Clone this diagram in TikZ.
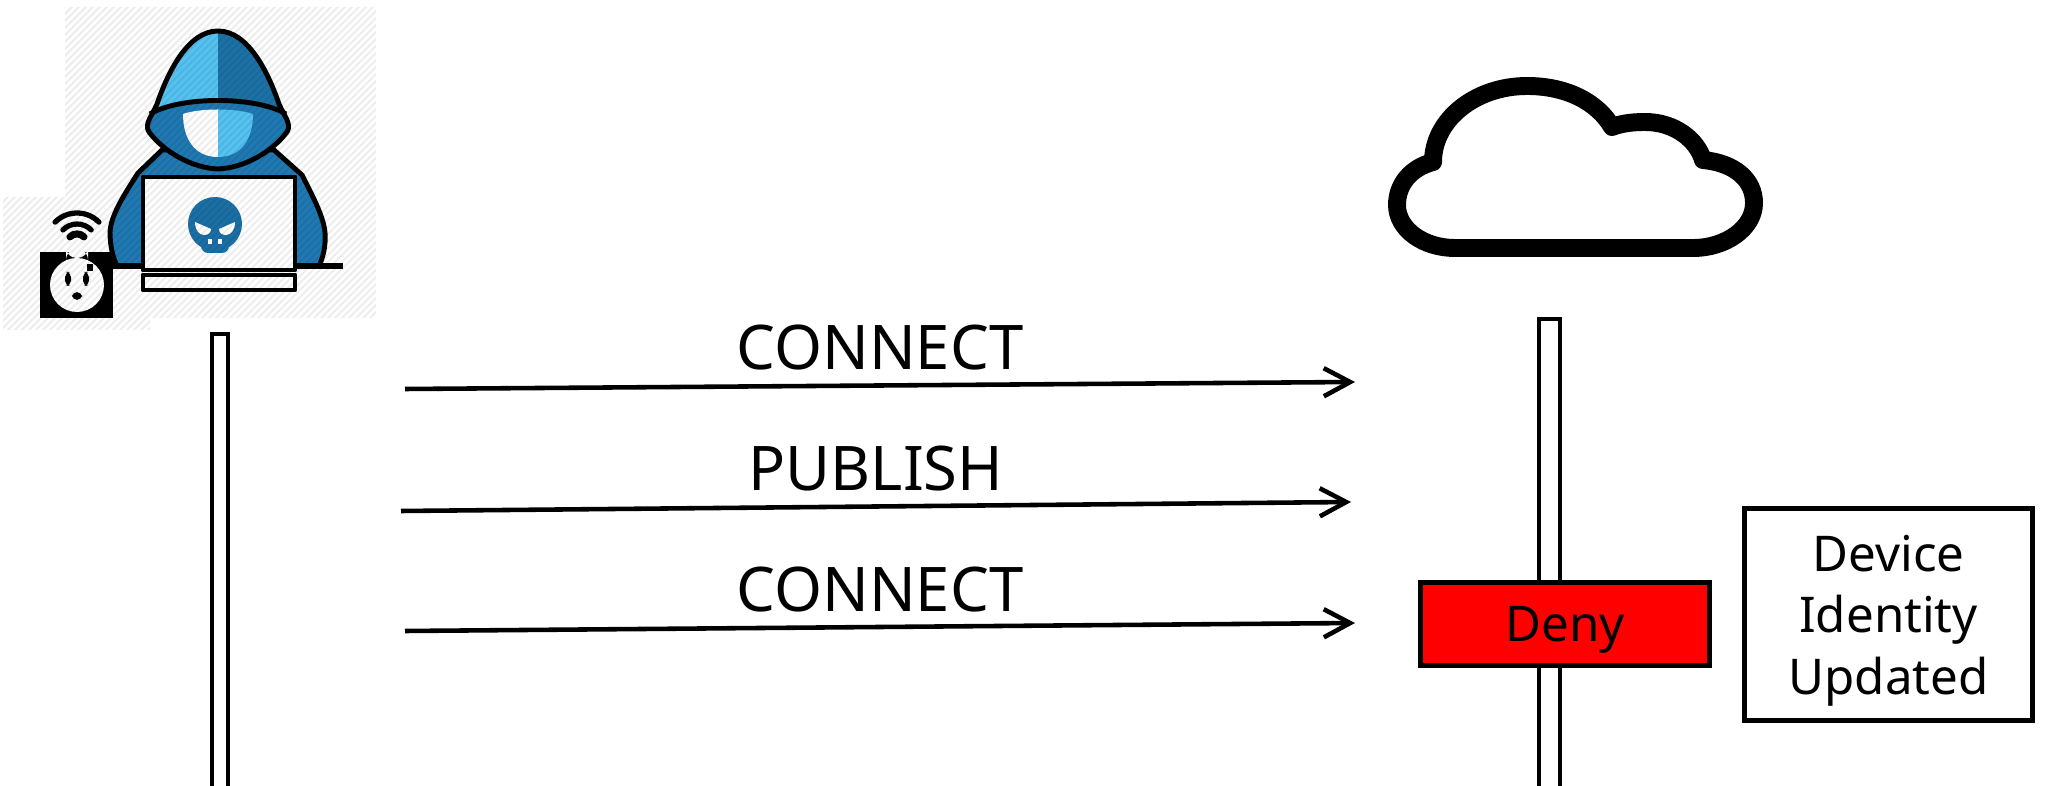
\documentclass[tikz,border=0pt]{standalone}
\usepackage{fontspec}
\setmainfont{Noto Sans}
\usetikzlibrary{arrows.meta}

\definecolor{hoodlight}{HTML}{55C3F2}
\definecolor{hooddark}{HTML}{1C72A6}
\definecolor{bodyblue}{HTML}{1F79B2}
\definecolor{skullblue}{HTML}{1B6FA5}
\definecolor{denyred}{HTML}{FF0000}

% outline of the hood, reused for clipping and stroking
\newcommand{\hoodshape}{(218,31) .. controls (248,31) and (268,72) .. (279,104)
  .. controls (284,116) and (292,124) .. (287,132)
  .. controls (272,152) and (244,168) .. (218,169)
  .. controls (192,168) and (164,152) .. (149,132)
  .. controls (144,124) and (152,116) .. (157,104)
  .. controls (168,72) and (188,31) .. (218,31) -- cycle}

\begin{document}
\begin{tikzpicture}[x=0.01cm,y=-0.01cm,
  outline/.style={line width=1.4pt, line join=round},
  lifeline/.style={draw, line width=1.15pt, fill=white, inner sep=0pt},
  msg/.style={line width=1.3pt, -{Straight Barb[length=7.5pt,width=8pt]}},
  msglabel/.style={font=\fontsize{17.5}{21}\selectfont, inner sep=0pt, above=3.7pt},
  denybox/.style={draw, line width=1.4pt, fill=denyred, minimum width=2.89cm,
    minimum height=0.83cm, inner sep=0pt, text height=10pt, text depth=0pt,
    font=\fontsize{14}{17.5}\selectfont},
  notebox/.style={draw, line width=1.4pt, fill=white, minimum width=2.88cm,
    minimum height=2.12cm, inner sep=0pt, align=center,
    font=\fontsize{14}{17.5}\selectfont},
  hatchline/.style={black, opacity=0.07, line width=0.6pt}]

\useasboundingbox (0,0) rectangle (2049,786);

% ---------- attacker icon ----------
% body and shoulders
\filldraw[outline, fill=bodyblue] (162,150) -- (138,173)
  .. controls (124,195) and (111,215) .. (110,232)
  .. controls (110,246) and (113,258) .. (117,266) -- (319,266)
  .. controls (323,258) and (326,246) .. (325,232)
  .. controls (323,215) and (312,195) .. (302,175) -- (274,150) -- cycle;

% hood: light/dark halves, darker opening below the rim
\begin{scope}
  \clip \hoodshape;
  \fill[hoodlight] (140,20) rectangle (218,180);
  \fill[hooddark] (218,20) rectangle (300,180);
  \fill[bodyblue] (140,180) -- (140,114) -- (150,114)
    .. controls (180,96) and (256,96) .. (286,114) -- (296,114) -- (296,180) -- cycle;
\end{scope}
\draw[outline] (150,114) .. controls (180,96) and (256,96) .. (286,114);

% face
\begin{scope}
  \clip (183,114) .. controls (200,108) and (236,108) .. (253,114)
    .. controls (253,138) and (242,157) .. (218,157)
    .. controls (194,157) and (183,138) .. (183,114) -- cycle;
  \fill[white] (175,100) rectangle (218,160);
  \fill[hoodlight] (218,100) rectangle (260,160);
\end{scope}
\draw[outline] \hoodshape;

% desk line
\draw[line width=1.5pt] (113,266) -- (343,266);

% laptop
\filldraw[outline, fill=white] (143,177) rectangle (295,270);
\filldraw[outline, fill=white] (143,275) rectangle (295,290);

% skull on the lid
\fill[skullblue] (215,224) circle[radius=27];
\fill[skullblue, rounded corners=2] (201,232) rectangle (229,253);
\fill[white] (195,222) -- (211,229) .. controls (211,233) and (208,235) .. (204,235)
  .. controls (199,235) and (195,230) .. (195,222) -- cycle;
\fill[white] (235,222) -- (219,229) .. controls (219,233) and (222,235) .. (226,235)
  .. controls (231,235) and (235,230) .. (235,222) -- cycle;
\fill[white] (208,239) rectangle (212,244);
\fill[white] (218,239) rectangle (222,244);

% smart plug with wifi
\fill (40,252) rectangle (113,318);
\fill[white] (77,285) circle[radius=27];
\fill[white, rounded corners=3] (66,249) rectangle (88,258);
\fill[rounded corners=1.5] (65,272) rectangle (71,286);
\fill[rounded corners=1.5] (83,272) rectangle (89,286);
\fill[rounded corners=1.5] (72,292) rectangle (82,300);
\fill (87,264) rectangle (93,271);
\draw[line width=1.5pt, line cap=round] (55.1,222.1) arc[start angle=225, end angle=315, radius=31];
\draw[line width=1.5pt, line cap=round] (62.9,229.9) arc[start angle=225, end angle=315, radius=20];
\draw[line width=2pt, line cap=round] (69.9,236.9) arc[start angle=225, end angle=315, radius=10];

% faint diagonal hatching over the icon
\begin{scope}
  \clip (65,7) rectangle (376,318) (3,197) rectangle (150,330);
  \foreach \k in {-340,-333,...,380} \draw[hatchline] (\k,335) -- ++(340,-340);
\end{scope}

% ---------- cloud ----------
\draw[line width=5.1pt, line join=round, fill=white] (1455,248) -- (1693,248)
  .. controls (1726,248) and (1754,228) .. (1754,203)
  .. controls (1754,180) and (1735,163) .. (1703,160)
  .. controls (1697,140) and (1675,122) .. (1645,122)
  .. controls (1630,122) and (1620,124) .. (1612,127)
  .. controls (1598,103) and (1568,86) .. (1527,86)
  .. controls (1475,86) and (1433,120) .. (1433,162)
  .. controls (1410,168) and (1397,185) .. (1397,205)
  .. controls (1397,229) and (1423,248) .. (1455,248) -- cycle;

% ---------- lifelines ----------
\node[lifeline, minimum width=0.16cm, minimum height=4.66cm] (clientline) at (220,567) {};
\node[lifeline, minimum width=0.21cm, minimum height=4.81cm] (brokerline) at (1549.5,559.5) {};

% ---------- messages ----------
\coordinate (m1s) at (405,389);  \coordinate (m1e) at (1355,382);
\coordinate (m2s) at (401,511);  \coordinate (m2e) at (1351,502);
\coordinate (m3s) at (405,631);  \coordinate (m3e) at (1355,623);

\draw[msg] (m1s) -- node[msglabel] (l1) {CONNECT} (m1e);
\draw[msg] (m2s) -- node[msglabel] (l2) {PUBLISH} (m2e);
\draw[msg] (m3s) -- node[msglabel] (l3) {CONNECT} (m3e);

% ---------- broker reaction ----------
\node[denybox] (deny) at (1565,624) {Deny};
\node[notebox] (note) at (1888.5,614.5) {Device\\Identity\\\raisebox{0pt}[\height][0pt]{Updated}};

\end{tikzpicture}
\end{document}
